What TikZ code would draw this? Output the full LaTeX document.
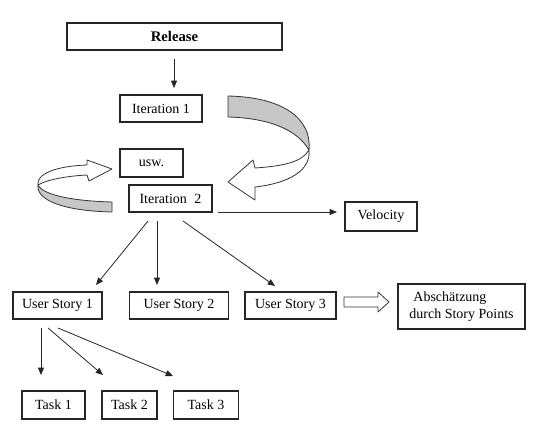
\documentclass[tikz,border=0pt]{standalone}
\usepackage{fontspec}
\setmainfont{Liberation Serif}
\usetikzlibrary{arrows.meta,calc}
\begin{document}
\begin{tikzpicture}[x=0.75pt,y=-0.75pt,
  box/.style={draw=black!85, line width=0.8pt, inner sep=0pt, align=center,
    font=\fontsize{10.5}{12.5}\selectfont},
  arr/.style={draw=black!85, line width=0.6pt, -{Triangle[length=5.5pt,width=4.5pt]}},
  band/.style={draw=black!80, line width=0.6pt, line join=round}]
\useasboundingbox (0,0) rectangle (538,436);

% nodes
\node[box, minimum width=161.25pt, minimum height=20.25pt, font=\fontsize{11}{13}\selectfont\bfseries] (rel) at (174.5,36.5) {Release};
\node[box, minimum width=61.5pt, minimum height=20.25pt] (it1) at (161,108.5) {Iteration 1};
\node[box, minimum width=47.25pt, minimum height=21pt] (usw) at (151.5,163) {usw.};
\node[box, minimum width=62.25pt, minimum height=20.25pt] (it2) at (170.5,198.5) {Iteration\hspace{3pt} 2};
\node[box, minimum width=54pt, minimum height=21.75pt] (vel) at (381,216.5) {Velocity};
\node[box, minimum width=66.75pt, minimum height=20.25pt] (us1) at (57.5,305.5) {User Story 1};
\node[box, minimum width=74.25pt, minimum height=20.25pt] (us2) at (179,305.5) {User Story 2};
\node[box, minimum width=68.25pt, minimum height=20.25pt] (us3) at (290.5,305.5) {User Story 3};
\node[box, minimum width=95.25pt, minimum height=33.75pt, align=left] (abs) at (461.5,306.5) {\hspace{3pt}Abschätzung\\durch Story Points};
\node[box, minimum width=47.25pt, minimum height=21pt] (t1) at (53.5,405) {Task 1};
\node[box, minimum width=41.25pt, minimum height=21pt] (t2) at (129.5,405) {Task 2};
\node[box, minimum width=48.75pt, minimum height=21pt] (t3) at (206,405) {Task 3};

% connector end points
\coordinate (r0) at (174,59);   \coordinate (r1) at (174,88);
\coordinate (v0) at (218,212);  \coordinate (v1) at (337,212);
\coordinate (a0) at (148,221);  \coordinate (a1) at (96,285);
\coordinate (b0) at (157,221);  \coordinate (b1) at (157,285);
\coordinate (c0) at (183,221);  \coordinate (c1) at (275,286);
\coordinate (d0) at (41,328);   \coordinate (d1) at (41,375);
\coordinate (e0) at (48,328);   \coordinate (e1) at (103,375);
\coordinate (f0) at (58,328);   \coordinate (f1) at (173,376);

\draw[arr] (r0) -- (r1);
\draw[arr] (v0) -- (v1);
\draw[arr] (a0) -- (a1);
\draw[arr] (b0) -- (b1);
\draw[arr] (c0) -- (c1);
\draw[arr] (d0) -- (d1);
\draw[arr] (e0) -- (e1);
\draw[arr] (f0) -- (f1);

% hollow block arrow User Story 3 -> Abschaetzung
\draw[band, fill=white] (344,297) -- (378,297) -- (378,292) -- (389,302) -- (378,312) -- (378,307) -- (344,307) -- cycle;

% big curved arrow (Iteration 1 -> Iteration 2)
\draw[band, fill=black!22] (228,96) -- (228,117) .. controls (266,118) and (296,128) .. (309,150)
   .. controls (312,118) and (282,97) .. (228,96) -- cycle;
\draw[band, fill=white] (309,150) .. controls (302,162) and (284,166) .. (255,168)
   -- (253,160) -- (228,182) -- (255,200) -- (255,187)
   .. controls (290,183) and (311,170) .. (309,150) -- cycle;

% small curved arrow (Iteration 2 -> usw.)
\draw[band, fill=white] (87,165) .. controls (56,166) and (36,174) .. (38,185)
   .. controls (46,180) and (66,176) .. (87,175)
   -- (89,181) -- (112,169) -- (87,160) -- cycle;
\draw[band, fill=black!22] (38,185) .. controls (44,196) and (76,201) .. (112,202)
   -- (112,212) .. controls (66,211) and (36,201) .. (38,185) -- cycle;
\end{tikzpicture}
\end{document}
